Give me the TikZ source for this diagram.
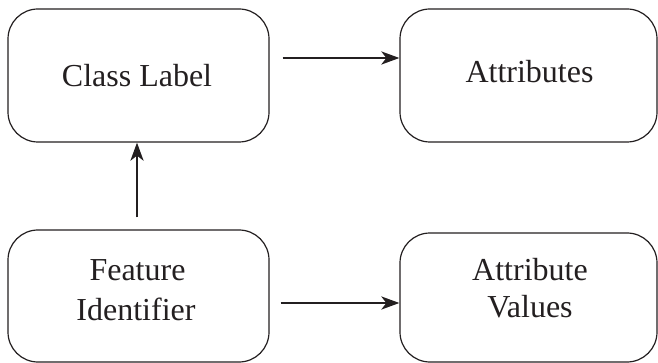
\documentclass[tikz,border=0pt]{standalone}
\usepackage{fontspec}
\setmainfont{Liberation Serif}
\usetikzlibrary{arrows.meta}
\definecolor{ink}{HTML}{231F20}
\begin{document}
\begin{tikzpicture}[x=1pt,y=-1pt,
  box/.style={draw=ink, line width=1.2pt, rounded corners=30pt, inner sep=0pt, minimum width=#1},
  box/.default=261pt,
  lbl/.style={anchor=base, inner sep=0pt, text=ink, font=\fontsize{32}{40}\selectfont},
  arr/.style={draw=ink, line width=2.8pt, -{Stealth[length=18pt,width=13pt,inset=5pt]}}]
\useasboundingbox (0,0) rectangle (658,363);
\node[box, minimum height=133pt] (cl) at (138.5,75.5) {};
\node[box=257pt, minimum height=133pt] (at) at (528.5,75.5) {};
\node[box, minimum height=132pt] (fi) at (138.5,296) {};
\node[box=257pt, minimum height=129pt] (av) at (528.5,297.5) {};
\node[lbl] (t1) at (137,87) {Class Label};
\node[lbl] (t2) at (529.5,83) {Attributes};
\node[lbl] (t3) at (137.5,280) {Feature};
\node[lbl] (t4) at (136,320) {Identifier};
\node[lbl] (t5) at (530,280) {Attribute};
\node[lbl] (t6) at (530,317) {Values};
\draw[arr, shorten <=13pt] (cl.east |- 0,58) -- (at.west |- 0,58);
\draw[arr, shorten <=11pt] (fi.east |- 0,303) -- (av.west |- 0,303);
\draw[arr, shorten <=12pt] (fi.north -| 137,0) -- (cl.south -| 137,0);
\end{tikzpicture}
\end{document}
